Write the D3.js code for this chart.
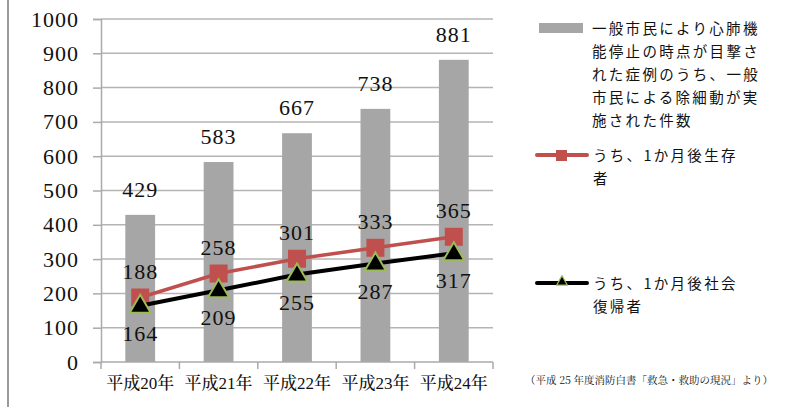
<!DOCTYPE html>
<html>
<head>
<meta charset="utf-8">
<script src="https://cdn.jsdelivr.net/npm/d3@7"></script>
<style>
  body { margin: 0; background: #fff; }
  svg { display: block; }
  .num { font-family: "Liberation Serif", serif; fill: #111; }
  .jp { font-family: "Noto Sans CJK JP", sans-serif; fill: #111; }
</style>
</head>
<body>
<div id="chart"></div>
<script>
// data
var categories = ["平成20年", "平成21年", "平成22年", "平成23年", "平成24年"];
var witnessed = [429, 583, 667, 738, 881];
var survived = [188, 258, 301, 333, 365];
var returned = [164, 209, 255, 287, 317];
var yTicks = [0, 100, 200, 300, 400, 500, 600, 700, 800, 900, 1000];

var legendBar = ["一般市民により心肺機", "能停止の時点が目撃さ", "れた症例のうち、一般", "市民による除細動が実", "施された件数"];
var legendRed = ["うち、1か月後生存", "者"];
var legendBlack = ["うち、1か月後社会", "復帰者"];
var source = "（平成 25 年度消防白書「救急・救助の現況」より）";

var W = 802, H = 407;
// plot box (window.top is read-only, so no "top" here)
var plotL = 101, plotR = 493, plotT = 19, plotB = 362;

var svg = d3.select("#chart").append("svg")
    .attr("width", W)
    .attr("height", H);

// frame line at the left edge
svg.append("line")
    .attr("x1", 8).attr("x2", 8)
    .attr("y1", 0).attr("y2", H)
    .style("stroke", "#9a9a9a").style("stroke-width", 2);

var xBar = d3.scaleBand().domain(categories).range([plotL, plotR])
    .paddingInner(0.62).paddingOuter(0.31);
var xLine = d3.scalePoint().domain(categories).range([plotL, plotR]).padding(0.5);
var y = d3.scaleLinear().domain([0, 1000]).range([plotB, plotT]);

// gridlines
svg.append("g").selectAll("line").data(yTicks.filter(function(d){ return d > 0; }))
  .enter().append("line")
    .attr("x1", plotL).attr("x2", plotR)
    .attr("y1", function(d){ return y(d); }).attr("y2", function(d){ return y(d); })
    .style("stroke", "#b4b4b4").style("stroke-width", 1.5);

// y axis
var gy = svg.append("g")
    .attr("transform", "translate(" + plotL + ",0)")
    .call(d3.axisLeft(y).tickValues(yTicks).tickFormat(d3.format("d")).tickSize(8).tickPadding(14));
gy.attr("font-family", null);
gy.select(".domain").style("stroke", "#aaa").style("stroke-width", 1.5);
gy.selectAll(".tick line").style("stroke", "#aaa").style("stroke-width", 1.5);
gy.selectAll(".tick text").attr("class", "num")
    .style("font-size", "22px").style("letter-spacing", "1px");

// bars
svg.append("g").selectAll("rect").data(witnessed)
  .enter().append("rect")
    .attr("x", function(d, i){ return xBar(categories[i]); })
    .attr("width", xBar.bandwidth())
    .attr("y", function(d){ return y(d); })
    .attr("height", function(d){ return plotB - y(d); })
    .style("fill", "#a6a6a6");

// x axis
var step = xBar.step();
var gx = svg.append("g")
    .attr("transform", "translate(0," + plotB + ")");
gx.append("line")
    .attr("x1", plotL).attr("x2", plotR)
    .style("stroke", "#aaa").style("stroke-width", 1.5);
gx.selectAll(".tk").data(d3.range(categories.length + 1))
  .enter().append("line")
    .attr("x1", function(i){ return plotL + i * step; })
    .attr("x2", function(i){ return plotL + i * step; })
    .attr("y1", 0).attr("y2", 7)
    .style("stroke", "#aaa").style("stroke-width", 1.5);
gx.selectAll("text").data(categories)
  .enter().append("text")
    .attr("x", function(d){ return xLine(d); })
    .attr("y", 27)
    .attr("text-anchor", "middle")
    .style("font-family", "'Liberation Serif', 'Noto Serif CJK JP', serif")
    .style("font-size", "17px")
    .style("font-weight", "500")
    .style("fill", "#111")
    .text(function(d){ return d; });

// bar labels
svg.append("g").selectAll("text").data(witnessed)
  .enter().append("text")
    .attr("class", "num")
    .attr("x", function(d, i){ return xLine(categories[i]); })
    .attr("y", function(d){ return y(d) - 18; })
    .attr("text-anchor", "middle")
    .style("font-size", "22px")
    .style("letter-spacing", "1px")
    .text(function(d){ return d; });

var line = d3.line()
    .x(function(d, i){ return xLine(categories[i]); })
    .y(function(d){ return y(d); });

// red series
svg.append("path").datum(survived)
    .attr("d", line)
    .style("fill", "none").style("stroke", "#c0504d").style("stroke-width", 3.5);
svg.append("g").selectAll("rect").data(survived)
  .enter().append("rect")
    .attr("x", function(d, i){ return xLine(categories[i]) - 9; })
    .attr("y", function(d){ return y(d) - 9; })
    .attr("width", 18).attr("height", 18)
    .style("fill", "#c0504d");

// black series
svg.append("path").datum(returned)
    .attr("d", line)
    .style("fill", "none").style("stroke", "#000").style("stroke-width", 4);
var tri = d3.symbol().type(d3.symbolTriangle).size(190);
svg.append("g").selectAll("path").data(returned)
  .enter().append("path")
    .attr("d", tri)
    .attr("transform", function(d, i){ return "translate(" + xLine(categories[i]) + "," + (y(d) + 1) + ")"; })
    .style("fill", "#000").style("stroke", "#9bbb59").style("stroke-width", 2);

// line labels
svg.append("g").selectAll("text").data(survived)
  .enter().append("text")
    .attr("class", "num")
    .attr("x", function(d, i){ return xLine(categories[i]); })
    .attr("y", function(d){ return y(d) - 19; })
    .attr("text-anchor", "middle")
    .style("font-size", "22px")
    .style("letter-spacing", "1px")
    .text(function(d){ return d; });
svg.append("g").selectAll("text").data(returned)
  .enter().append("text")
    .attr("class", "num")
    .attr("x", function(d, i){ return xLine(categories[i]); })
    .attr("y", function(d){ return y(d) + 35; })
    .attr("text-anchor", "middle")
    .style("font-size", "22px")
    .style("letter-spacing", "1px")
    .text(function(d){ return d; });

// legend
function legendText(lines, x0, y0) {
  svg.append("g").selectAll("text").data(lines)
    .enter().append("text")
      .attr("class", "jp")
      .attr("x", x0)
      .attr("y", function(d, i){ return y0 + i * 23; })
      .style("font-size", "14.5px")
      .style("letter-spacing", "2.3px")
      .text(function(d){ return d; });
}
svg.append("rect")
    .attr("x", 539).attr("y", 23).attr("width", 44).attr("height", 10)
    .style("fill", "#a6a6a6");
legendText(legendBar, 592, 34);

svg.append("line")
    .attr("x1", 537).attr("x2", 587).attr("y1", 155).attr("y2", 155)
    .style("stroke", "#c0504d").style("stroke-width", 4).style("stroke-linecap", "round");
svg.append("rect")
    .attr("x", 556).attr("y", 150).attr("width", 11).attr("height", 11)
    .style("fill", "#c0504d");
legendText(legendRed, 593, 161);

svg.append("line")
    .attr("x1", 537).attr("x2", 587).attr("y1", 283).attr("y2", 283)
    .style("stroke", "#000").style("stroke-width", 4).style("stroke-linecap", "round");
svg.append("path")
    .attr("d", d3.symbol().type(d3.symbolTriangle).size(50))
    .attr("transform", "translate(562,282)")
    .style("fill", "#000").style("stroke", "#9bbb59").style("stroke-width", 1.2);
legendText(legendBlack, 593, 289);

svg.append("text")
    .attr("x", 525).attr("y", 384)
    .style("font-family", "'Noto Serif CJK JP', serif")
    .style("font-size", "10.5px")
    .style("fill", "#111")
    .text(source);
</script>
</body>
</html>
